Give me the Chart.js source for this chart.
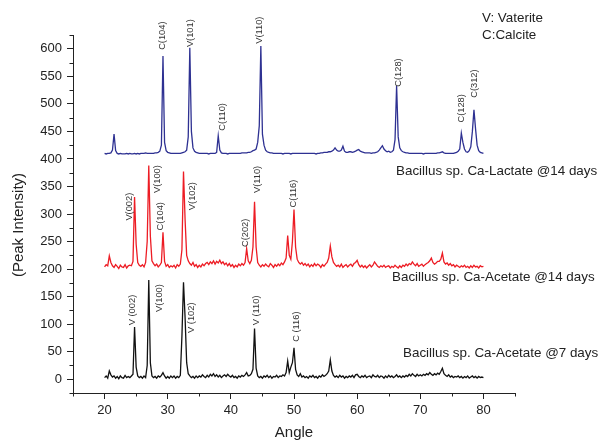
<!DOCTYPE html>
<html>
<head>
<meta charset="utf-8">
<script src="https://cdn.jsdelivr.net/npm/chart.js@4.4.1/dist/chart.umd.min.js"></script>
<style>
    html, body { margin: 0; padding: 0; background: #fff; }
    #wrap { width: 600px; height: 441px; position: relative; }
</style>
</head>
<body>
<div id="wrap"><canvas id="xrdChart"></canvas></div>
<script>
// 2-theta scan positions (deg), shared by the three patterns
const angles = [
    20, 20.25, 20.5, 20.75, 21, 21.25, 21.5, 21.75,
    22, 22.25, 22.5, 22.75, 23, 23.25, 23.5, 23.75,
    24, 24.25, 24.5, 24.75, 25, 25.25, 25.5, 25.75,
    26, 26.25, 26.5, 26.75, 27, 27.25, 27.5, 27.75,
    28, 28.25, 28.5, 28.75, 29, 29.25, 29.5, 29.75,
    30, 30.25, 30.5, 30.75, 31, 31.25, 31.5, 31.75,
    32, 32.25, 32.5, 32.75, 33, 33.25, 33.5, 33.75,
    34, 34.25, 34.5, 34.75, 35, 35.25, 35.5, 35.75,
    36, 36.25, 36.5, 36.75, 37, 37.25, 37.5, 37.75,
    38, 38.25, 38.5, 38.75, 39, 39.25, 39.5, 39.75,
    40, 40.25, 40.5, 40.75, 41, 41.25, 41.5, 41.75,
    42, 42.25, 42.5, 42.75, 43, 43.25, 43.5, 43.75,
    44, 44.25, 44.5, 44.75, 45, 45.25, 45.5, 45.75,
    46, 46.25, 46.5, 46.75, 47, 47.25, 47.5, 47.75,
    48, 48.25, 48.5, 48.75, 49, 49.25, 49.5, 49.75,
    50, 50.25, 50.5, 50.75, 51, 51.25, 51.5, 51.75,
    52, 52.25, 52.5, 52.75, 53, 53.25, 53.5, 53.75,
    54, 54.25, 54.5, 54.75, 55, 55.25, 55.5, 55.75,
    56, 56.25, 56.5, 56.75, 57, 57.25, 57.5, 57.75,
    58, 58.25, 58.5, 58.75, 59, 59.25, 59.5, 59.75,
    60, 60.25, 60.5, 60.75, 61, 61.25, 61.5, 61.75,
    62, 62.25, 62.5, 62.75, 63, 63.25, 63.5, 63.75,
    64, 64.25, 64.5, 64.75, 65, 65.25, 65.5, 65.75,
    66, 66.25, 66.5, 66.75, 67, 67.25, 67.5, 67.75,
    68, 68.25, 68.5, 68.75, 69, 69.25, 69.5, 69.75,
    70, 70.25, 70.5, 70.75, 71, 71.25, 71.5, 71.75,
    72, 72.25, 72.5, 72.75, 73, 73.25, 73.5, 73.75,
    74, 74.25, 74.5, 74.75, 75, 75.25, 75.5, 75.75,
    76, 76.25, 76.5, 76.75, 77, 77.25, 77.5, 77.75,
    78, 78.25, 78.5, 78.75, 79, 79.25, 79.5, 79.75,
    80
];

// Bacillus sp. Ca-Lactate @14 days (offset pattern, blue)
const lactate14 = [
    410, 409, 410, 410, 411, 416, 445, 415,
    410, 409, 410, 409, 409, 409, 410, 409,
    410, 409, 409, 410, 409, 410, 409, 410,
    410, 410, 411, 410, 410, 410, 410, 410,
    411, 411, 412, 414, 425, 587, 430, 415,
    412, 411, 410, 410, 410, 410, 410, 410,
    410, 411, 412, 413, 416, 440, 602, 450,
    420, 414, 412, 411, 410, 410, 410, 410,
    410, 410, 409, 410, 410, 410, 410, 412,
    442, 416, 411, 410, 410, 410, 409, 410,
    410, 410, 410, 410, 410, 410, 410, 411,
    411, 411, 411, 412, 412, 413, 415, 416,
    418, 430, 460, 605, 445, 425, 416, 413,
    412, 411, 411, 410, 410, 410, 410, 410,
    410, 409, 410, 410, 410, 410, 409, 410,
    410, 410, 410, 410, 410, 410, 410, 410,
    410, 410, 410, 410, 410, 410, 409, 410,
    410, 411, 411, 412, 412, 412, 413, 413,
    414, 416, 420, 416, 414, 414, 416, 423,
    414, 412, 412, 413, 413, 412, 413, 414,
    416, 417, 414, 413, 412, 411, 411, 411,
    411, 410, 411, 411, 412, 413, 416, 420,
    424, 418, 415, 413, 414, 412, 413, 416,
    435, 533, 440, 420, 415, 413, 412, 411,
    411, 410, 410, 410, 410, 410, 410, 410,
    410, 410, 409, 410, 410, 410, 410, 410,
    410, 410, 410, 411, 411, 412, 413, 411,
    410, 410, 410, 410, 410, 410, 411, 412,
    414, 418, 447, 430, 418, 413, 412, 415,
    422, 450, 489, 455, 425, 415, 412, 411,
    410
];

// Bacillus sp. Ca-Acetate @14 days (offset pattern, red)
const acetate14 = [
    204, 208, 206, 224, 212, 206, 203, 208,
    205, 201, 207, 204, 203, 208, 202, 206,
    207, 206, 214, 331, 245, 212, 207, 205,
    208, 204, 212, 250, 388, 260, 215, 210,
    206, 209, 204, 207, 212, 267, 214, 205,
    208, 203, 206, 204, 207, 202, 208, 205,
    209, 235, 377, 290, 225, 215, 210, 207,
    212, 205, 208, 203, 207, 204, 209, 206,
    210, 212, 208, 213, 210, 215, 209, 214,
    211, 216, 210, 213, 208, 211, 206, 210,
    205, 208, 203, 207, 204, 209, 206, 210,
    207, 212, 237, 215, 210, 216, 240, 322,
    240, 212, 207, 204, 208, 205, 209, 206,
    204, 210, 207, 203, 208, 205, 209, 206,
    211, 208, 213, 220, 261, 225, 218, 250,
    308, 240, 218, 212, 209, 212, 207, 210,
    206, 209, 204, 208, 205, 210, 206, 209,
    207, 203, 208, 205, 209, 212, 220, 242,
    222, 212, 208, 205, 207, 204, 209, 203,
    206, 208, 204, 207, 209, 205, 210, 212,
    216, 208, 204, 207, 203, 206, 202, 205,
    208, 204, 207, 213, 209, 205, 203, 206,
    204, 207, 203, 205, 206, 202, 205, 203,
    207, 204, 202, 206, 203, 207, 205, 209,
    206, 210, 208, 213, 209, 206, 210, 205,
    207, 209, 205, 208, 210, 212, 215, 220,
    212, 209, 211, 214, 214, 218, 229, 213,
    209, 211, 207, 210, 206, 208, 204, 207,
    205, 203, 206, 204, 207, 203, 205, 202,
    206, 203, 207, 204, 205, 202, 206, 204,
    205
];

// Bacillus sp. Ca-Acetate @7 days (black)
const acetate7 = [
    3, 6, 2, 15, 8, 4, 6, 2,
    5, 1, 6, 3, 2, 7, 3, 5,
    3, 6, 9, 95, 22, 6, 3, 5,
    2, 6, 3, 25, 180, 30, 6, 3,
    5, 2, 6, 4, 7, 12, 6, 2,
    5, 2, 6, 3, 6, 2, 5, 3,
    7, 78, 176, 112, 30, 10, 6, 3,
    5, 2, 6, 3, 6, 4, 8, 5,
    3, 7, 4, 9, 6, 10, 5, 8,
    4, 7, 3, 6, 8, 5, 9, 6,
    4, 7, 3, 5, 2, 6, 4, 7,
    5, 8, 12, 6, 7, 10, 18, 92,
    20, 6, 3, 5, 2, 6, 4, 7,
    3, 6, 2, 5, 4, 7, 3, 6,
    5, 8, 6, 12, 33, 12, 22, 30,
    57, 18, 8, 5, 10, 4, 6, 3,
    5, 2, 6, 4, 7, 3, 5, 2,
    6, 4, 8, 5, 7, 10, 15, 35,
    15, 7, 4, 6, 3, 7, 4, 6,
    2, 5, 3, 6, 4, 7, 3, 8,
    9, 5, 3, 6, 4, 7, 3, 5,
    6, 3, 8, 5, 4, 7, 3, 6,
    5, 2, 6, 3, 7, 4, 6, 3,
    5, 8, 4, 6, 3, 6, 4, 7,
    5, 9, 6, 10, 7, 5, 9, 6,
    8, 6, 9, 7, 10, 8, 12, 9,
    7, 10, 8, 11, 9, 14, 20, 10,
    7, 5, 8, 4, 6, 3, 5, 4,
    6, 3, 5, 2, 5, 3, 6, 2,
    4, 6, 3, 5, 2, 5, 3, 4,
    3
];

const sampleNames = [
    'Bacillus sp. Ca-Lactate @14 days',
    'Bacillus sp. Ca-Acetate @14 days',
    'Bacillus sp. Ca-Acetate @7 days'
];
const phaseKey = ['V: Vaterite', 'C:Calcite'];

// reflection tags: [text, angle, intensity where the tag starts]
const lactateTags = [
    ['C(104)', 29.24, 598], ['V(101)', 33.52, 603], ['C(110)', 38.7, 451],
    ['V(110)', 44.5, 609], ['C(128)', 66.53, 531], ['C(128)', 76.58, 466],
    ['C(312)', 78.53, 511]
];
const acetate14Tags = [
    ['V(002)', 24.01, 288], ['V(100)', 28.4, 338], ['C(104)', 28.92, 270],
    ['V(102)', 33.88, 307], ['C(202)', 42.23, 240], ['V(110)', 44.25, 338],
    ['C(116)', 49.89, 312]
];
const acetate7Tags = [
    ['V (002)', 24.37, 98], ['V(100)', 28.76, 122], ['V (102)', 33.78, 84],
    ['V (110)', 44.09, 98], ['C (116)', 50.43, 68]
];

const xMajor = [20, 30, 40, 50, 60, 70, 80];
const xMinor = [15, 25, 35, 45, 55, 65, 75, 85];
const yMajor = [0, 50, 100, 150, 200, 250, 300, 350, 400, 450, 500, 550, 600];
const yMinor = [-25, 25, 75, 125, 175, 225, 275, 325, 375, 425, 475, 525, 575, 625];

const FONT = '"Liberation Sans", Arial, Helvetica, sans-serif';
const INK = '#222';

const toPoints = (ys) => angles.map((a, i) => ({ x: a, y: ys[i] }));

// tags, sample names, phase key, y title and minor ticks
const annotate = {
    id: 'annotate',
    afterDraw(chart) {
        const { ctx, chartArea } = chart;
        const x = chart.scales.x;
        const y = chart.scales.y;
        ctx.save();

        // minor ticks
        ctx.strokeStyle = INK;
        ctx.lineWidth = 1;
        ctx.beginPath();
        xMinor.forEach(v => {
            const px = Math.round(x.getPixelForValue(v)) + 0.5;
            ctx.moveTo(px, chartArea.bottom);
            ctx.lineTo(px, chartArea.bottom + 3.5);
        });
        yMinor.forEach(v => {
            const py = Math.round(y.getPixelForValue(v)) + 0.5;
            ctx.moveTo(chartArea.left, py);
            ctx.lineTo(chartArea.left - 3.5, py);
        });
        ctx.stroke();

        // reflection tags, rotated
        ctx.fillStyle = '#333';
        ctx.font = '9.3px ' + FONT;
        ctx.textAlign = 'left';
        ctx.textBaseline = 'middle';
        [...lactateTags, ...acetate14Tags, ...acetate7Tags].forEach(([t, a, v]) => {
            ctx.save();
            ctx.translate(x.getPixelForValue(a), y.getPixelForValue(v));
            ctx.rotate(-Math.PI / 2);
            ctx.fillText(t, 0, 0);
            ctx.restore();
        });

        // sample names to the right of each pattern
        ctx.fillStyle = INK;
        ctx.font = '13.4px ' + FONT;
        const namePos = [[396, 171], [392, 277], [403, 353]];
        sampleNames.forEach((n, i) => ctx.fillText(n, namePos[i][0], namePos[i][1]));

        phaseKey.forEach((t, i) => ctx.fillText(t, 482, 18 + i * 17));

        // y axis title
        ctx.font = '15px ' + FONT;
        ctx.textAlign = 'center';
        ctx.translate(19, 225);
        ctx.rotate(-Math.PI / 2);
        ctx.fillText('(Peak Intensity)', 0, 0);
        ctx.restore();
    }
};

document.addEventListener('DOMContentLoaded', () => {
    Chart.defaults.font.family = FONT;
    Chart.defaults.color = INK;

    new Chart(document.getElementById('xrdChart'), {
        type: 'line',
        data: {
            datasets: [{
                label: sampleNames[0],
                data: toPoints(lactate14),
                borderColor: '#2e3192',
                borderWidth: 1.3
            }, {
                label: sampleNames[1],
                data: toPoints(acetate14),
                borderColor: '#ed1c24',
                borderWidth: 1.3
            }, {
                label: sampleNames[2],
                data: toPoints(acetate7),
                borderColor: '#111111',
                borderWidth: 1.3
            }]
        },
        options: {
            responsive: true,
            maintainAspectRatio: false,
            animation: false,
            events: [],
            elements: { point: { radius: 0 }, line: { tension: 0 } },
            layout: { padding: { top: 35, right: 85, left: 0, bottom: 0 } },
            plugins: { legend: { display: false }, tooltip: { enabled: false } },
            scales: {
                x: {
                    type: 'linear',
                    min: 15,
                    max: 85,
                    afterBuildTicks: (s) => { s.ticks = xMajor.map(v => ({ value: v })); },
                    afterFit: (s) => { s.height = 48; },
                    grid: { drawOnChartArea: false, color: INK, tickLength: 6 },
                    border: { color: INK, width: 1 },
                    ticks: { font: { size: 13 }, color: INK, padding: 4, maxRotation: 0 },
                    title: { display: true, text: 'Angle', font: { size: 15 }, color: INK, padding: { top: 0, bottom: -1 } }
                },
                y: {
                    min: -25,
                    max: 625,
                    afterBuildTicks: (s) => { s.ticks = yMajor.map(v => ({ value: v })); },
                    afterFit: (s) => { s.width = 73; },
                    grid: { drawOnChartArea: false, color: INK, tickLength: 6 },
                    border: { color: INK, width: 1 },
                    ticks: { font: { size: 13 }, color: INK, padding: 5 }
                }
            }
        },
        plugins: [annotate]
    });
});
</script>
</body>
</html>
